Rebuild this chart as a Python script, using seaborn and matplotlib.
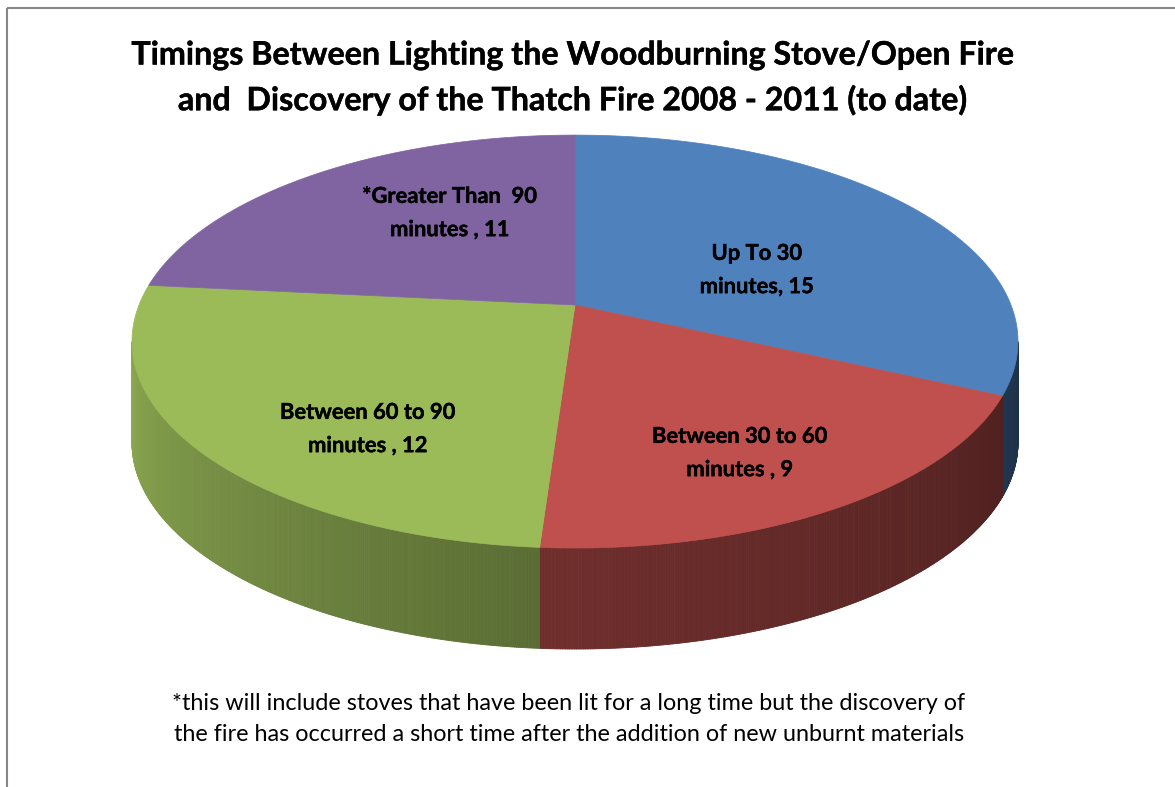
import numpy as np
import matplotlib
matplotlib.use('Agg')
import matplotlib.pyplot as plt
import matplotlib.patheffects as pe
import seaborn as sns
from matplotlib.collections import PolyCollection
from matplotlib.patches import Rectangle
from matplotlib.colors import to_rgb

# ---- data ----
categories = ['Up To 30\nminutes, 15',
              'Between 30 to 60\nminutes , 9',
              'Between 60 to 90\nminutes , 12',
              '*Greater Than  90\nminutes , 11']
values = [15, 9, 12, 11]
colors = ['#4F81BD', '#C0504D', '#9BBB59', '#8064A2']

title_lines = ['Timings Between Lighting the Woodburning Stove/Open Fire',
               'and  Discovery of the Thatch Fire 2008 - 2011 (to date)']
footnote = ('*this will include stoves that have been lit for a long time but the discovery of\n'
            'the fire has occurred a short time after the addition of new unburnt materials')

# ---- layout (pixel coords) ----
W, H = 1175, 787
X0, Y0 = 575, 305       # pie vertex on screen
A, B, K = 436, 200, 0.177  # perspective projection of the top disc
DEPTH = 101
label_pos = [(757, 270), (740, 453), (368, 429), (450, 213)]

sns.set_theme(style='white')
plt.rcParams['font.family'] = ['Lato', 'DejaVu Sans']
plt.rcParams['text.color'] = 'black'

# bold text in the original is a touch heavier than Lato Bold
heavy = [pe.withStroke(linewidth=0.3, foreground='black')]


def proj(theta, drop=0.0):
    # theta in degrees, clockwise from 12 o'clock
    t = np.radians(theta)
    u, v = np.sin(t), np.cos(t)
    w = 1 + K * v
    return X0 + A * u / w, Y0 - B * v / w + drop


def shade(theta):
    # side wall lighting: brighter towards the left
    return np.interp(theta, [100, 184, 260], [0.38, 0.58, 0.90])


fig = plt.figure(figsize=(W / 100, H / 100), dpi=100)
ax = fig.add_axes([0, 0, 1, 1])
ax.set_xlim(0, W)
ax.set_ylim(H, 0)
ax.axis('off')

# which part of the rim faces the viewer
th = np.linspace(0, 360, 3601)
xs, _ = proj(th)
th_right = th[np.argmax(xs)]
th_left = th[np.argmin(xs)]

bounds = np.concatenate([[0], np.cumsum(values) / np.sum(values) * 360])

# side walls
for i, c in enumerate(colors):
    a0 = max(bounds[i], th_right)
    a1 = min(bounds[i + 1], th_left)
    if a1 <= a0:
        continue
    tt = np.linspace(a0, a1, int((a1 - a0) * 4) + 2)
    polys, fc = [], []
    base = np.array(to_rgb(c))
    for t0, t1 in zip(tt[:-1], tt[1:]):
        x0, y0 = proj(t0)
        x1, y1 = proj(t1)
        polys.append([(x0, y0), (x1, y1), (x1, y1 + DEPTH), (x0, y0 + DEPTH)])
        fc.append(np.clip(base * shade((t0 + t1) / 2), 0, 1))
    ax.add_collection(PolyCollection(polys, facecolors=fc, edgecolors=fc, linewidths=0.6))

# top faces
for i, c in enumerate(colors):
    tt = np.linspace(bounds[i], bounds[i + 1], 200)
    x, y = proj(tt)
    ax.fill(np.r_[X0, x], np.r_[Y0, y], color=c, lw=0.5, ec=c)

# slice labels
for lab, (lx, ly) in zip(categories, label_pos):
    ax.text(lx, ly, lab, ha='center', va='center', fontsize=15.8, fontweight='bold',
            linespacing=1.72, color='black', path_effects=heavy)

# title
ax.text(573, 55, title_lines[0], ha='center', va='center', fontsize=23.2,
        fontweight='bold', color='black', path_effects=heavy)
ax.text(573, 100, title_lines[1], ha='center', va='center', fontsize=23.2,
        fontweight='bold', color='black', path_effects=heavy)

# footnote
ax.text(569, 719, footnote, ha='center', va='center', fontsize=16.8,
        linespacing=1.54, color='black')

# chart border
ax.add_patch(Rectangle((7, 8), W + 20, H + 20, fill=False, ec='#868686', lw=1.5))

fig.savefig('out.png', dpi=100)
